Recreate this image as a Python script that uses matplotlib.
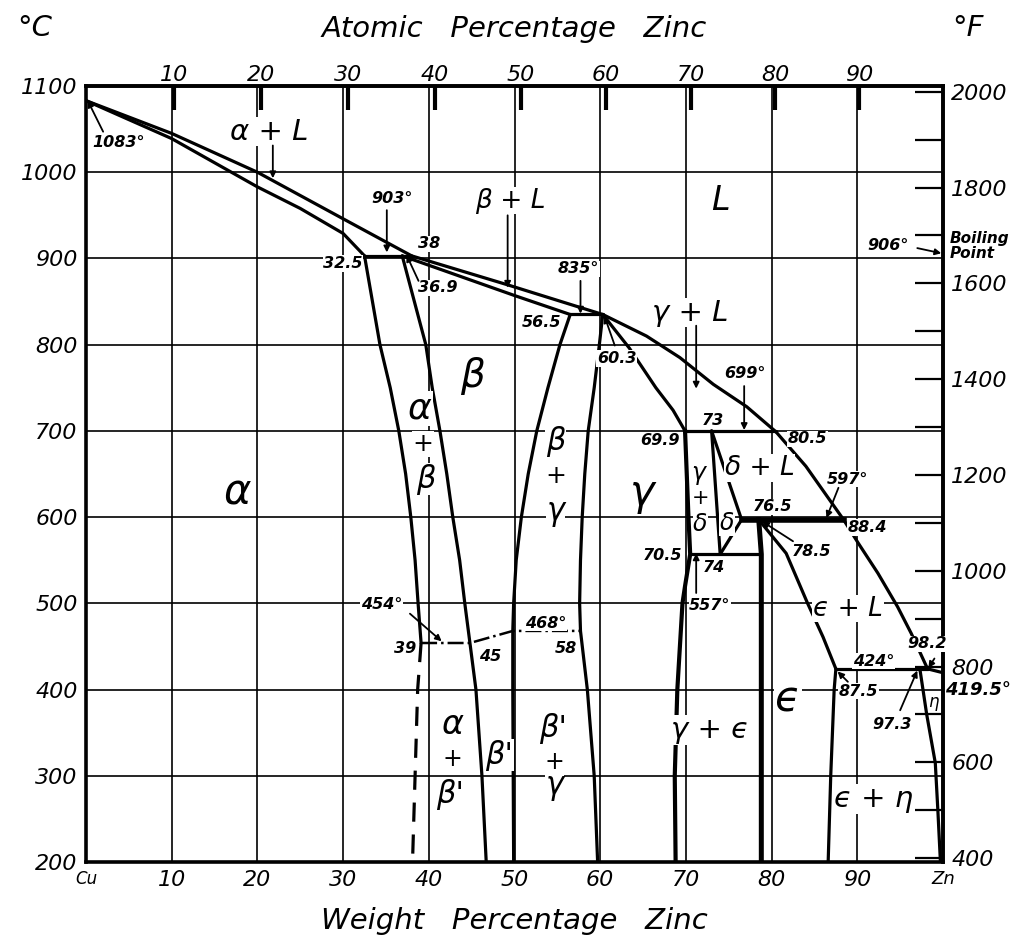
import matplotlib
matplotlib.use("Agg")
import matplotlib.pyplot as plt
import numpy as np

plt.rcParams['font.family'] = ['DejaVu Sans']
plt.rcParams['font.style'] = 'italic'

# phase boundaries, (weight % Zn, deg C)
liq_alpha_w = [0, 10, 20, 30, 38]
liq_alpha_t = [1083, 1045, 1000, 946, 903]
sol_alpha_w = [0, 10, 20, 25, 30, 32.5]
sol_alpha_t = [1083, 1039, 983, 958, 929, 903]
liq_beta_w = [38, 49, 60.3]
liq_beta_t = [903, 870, 835]
sol_beta_w = [36.9, 50, 56.5]
sol_beta_t = [903, 857, 835]
liq_gamma_w = [60.3, 65.4, 69.3, 73.2, 77.1, 80.5]
liq_gamma_t = [835, 810, 785, 754, 728, 699]
sol_gamma_w = [60.3, 63.4, 66.5, 68.5, 69.9]
sol_gamma_t = [835, 796, 750, 724, 700]
liq_delta_w = [80.5, 84.0, 88.4]
liq_delta_t = [699, 659, 597]
liq_eps_w = [88.4, 90.1, 92.4, 94.7, 96.3, 98.2, 100]
liq_eps_t = [597, 570, 535, 496, 465, 424, 419.5]

alpha_w = [32.5, 34.3, 35.5, 36.5, 37.3, 37.9, 38.4, 38.75, 39.1]
alpha_t = [903, 800, 750, 700, 650, 600, 550, 500, 454]
alpha_low_w = [39.1, 38.7, 38.1]
alpha_low_t = [454, 400, 200]
beta_w = [36.9, 39.65, 40.4, 41.3, 42.1, 42.8, 43.6, 44.2, 44.8, 45.5, 46.2, 46.7]
beta_t = [903, 800, 750, 700, 650, 600, 550, 500, 454, 400, 300, 200]
beta_r_w = [56.5, 55.3, 53.9, 52.6, 51.6, 50.8, 50.2, 49.9, 49.8, 49.8, 49.9]
beta_r_t = [835, 800, 750, 700, 650, 600, 550, 500, 468, 400, 200]
gamma_l_w = [60.3, 59.9, 59.3, 58.6, 58.2, 57.9, 57.7, 57.6, 57.7, 58.5, 59.3, 59.7]
gamma_l_t = [835, 800, 750, 700, 650, 600, 550, 500, 468, 400, 300, 200]
gamma_r_w = [69.9, 70.3, 70.5, 69.9, 69.6, 69.0, 68.7, 68.8]
gamma_r_t = [700, 600, 557, 520, 500, 400, 300, 200]
delta_l_w = [73, 74]
delta_l_t = [700, 557]
delta_liq_w = [73, 76.5]
delta_liq_t = [700, 597]
delta_r_w = [74, 76.5]
delta_r_t = [557, 597]
eps_l_w = [78.5, 78.8, 78.8]
eps_l_t = [597, 557, 200]
eps_sol_w = [78.5, 81.7, 84.2, 86.0, 87.5]
eps_sol_t = [597, 558, 500, 461, 424]
eps_r_w = [87.5, 87.3, 86.9, 86.6]
eps_r_t = [424, 400, 300, 200]
eta_w = [97.3, 98.1, 99.1, 99.4, 99.7]
eta_t = [424, 371, 315, 260, 200]
order_w = [39.1, 44.8, 49.8, 57.7]
order_t = [454, 454, 468, 468]

# horizontal invariants: (start, end, temperature)
plateaus = [(32.5, 38, 903), (56.5, 60.3, 835), (69.9, 80.5, 700),
            (70.5, 78.8, 557), (87.5, 98.2, 424)]
plateau_597 = (76.5, 88.4, 597)

bottom_ticks = [0, 10, 20, 30, 40, 50, 60, 70, 80, 90, 100]
bottom_labels = ['Cu', '10', '20', '30', '40', '50', '60', '70', '80', '90', 'Zn']
left_ticks = [200, 300, 400, 500, 600, 700, 800, 900, 1000, 1100]
top_ticks = [10, 20, 30, 40, 50, 60, 70, 80, 90]
f_major = [400, 600, 800, 1000, 1200, 1400, 1600, 1800, 2000]
f_minor = [500, 700, 900, 1100, 1300, 1500, 1700, 1900]

# phase field names: text, wt, T, size
phase_labels = [
    ('α', 17.7, 628, 30), ('β', 45.1, 764, 28), ('L', 74.0, 967, 24),
    ('γ', 64.9, 628, 30), ('ϵ', 81.9, 388, 30),
    ('α + L', 21.4, 1047, 21), ('β + L', 49.5, 967, 19),
    ('γ + L', 70.5, 837, 21), ('δ + L', 78.6, 657, 19),
    ('ϵ + L', 88.9, 494, 19), ('γ + ϵ', 72.8, 353, 21),
    ('ϵ + η', 91.9, 273, 21),
    ('α', 39.0, 726, 26), ('+', 39.3, 685, 18), ('β', 39.6, 644, 22),
    ('β', 54.8, 688, 22), ('+', 54.8, 648, 18), ('γ', 54.8, 605, 22),
    ('γ', 71.4, 651, 17), ('+', 71.7, 622, 15), ('δ', 71.7, 592, 17),
    ('δ', 74.8, 593, 17),
    ('α', 42.7, 359, 24), ('+', 42.7, 320, 17), ("β'", 42.5, 278, 22),
    ("β'", 48.2, 324, 22),
    ("β'", 54.5, 355, 22), ('+', 54.7, 316, 17), ('γ', 54.7, 287, 22),
    ('η', 98.9, 385, 12),
]

# compositions and temperatures written on the diagram
num_labels = [
    ('1083°', 3.8, 1034), ('903°', 35.7, 970), ('38', 40.0, 917),
    ('32.5', 30.0, 894), ('36.9', 41.0, 866), ('835°', 57.5, 888),
    ('56.5', 53.1, 826), ('60.3', 61.9, 784), ('699°', 76.9, 766),
    ('73', 73.1, 712), ('69.9', 67.0, 689), ('80.5', 84.2, 691),
    ('597°', 88.9, 644), ('76.5', 80.1, 612), ('88.4', 91.2, 588),
    ('78.5', 84.7, 560), ('70.5', 67.3, 555), ('74', 73.3, 541),
    ('557°', 72.8, 497), ('454°', 34.5, 499), ('39', 37.2, 448),
    ('45', 47.1, 438), ('468°', 53.6, 477), ('58', 56.0, 448),
    ('424°', 91.9, 433), ('98.2', 98.2, 453), ('87.5', 90.1, 398),
    ('97.3', 94.1, 360), ('906°', 93.6, 915),
]

# leader arrows: tail -> tip
arrows = [
    ((2.0, 1047), (0.2, 1083)), ((21.8, 1031), (21.8, 993)),
    ((35.1, 956), (35.1, 907)), ((38.8, 874), (37.4, 904)),
    ((49.2, 950), (49.2, 866)), ((57.7, 874), (57.7, 836)),
    ((61.7, 799), (60.5, 833)), ((71.2, 822), (71.2, 749)),
    ((76.8, 752), (76.8, 701)), ((87.8, 634), (86.4, 599)),
    ((82.5, 572), (78.9, 595)), ((71.2, 512), (71.2, 558)),
    ((37.8, 488), (41.5, 456)), ((99.0, 436), (98.3, 425)),
    ((95.0, 376), (97.0, 422)), ((88.9, 409), (87.7, 421)),
    ((97.0, 912), (99.8, 906)),
]


def w2a(w):
    w = np.asarray(w, dtype=float)
    zn = w / 65.38
    cu = (100 - w) / 63.55
    return 100 * zn / (zn + cu)


def a2w(a):
    a = np.asarray(a, dtype=float)
    zn = a * 65.38
    cu = (100 - a) * 63.55
    return 100 * zn / (zn + cu)


def c2f(c):
    return np.asarray(c, dtype=float) * 9 / 5 + 32


def f2c(f):
    return (np.asarray(f, dtype=float) - 32) * 5 / 9


fig = plt.figure(figsize=(10.34, 9.48), dpi=100)
ax = fig.add_axes([86 / 1034, 1 - 862 / 948, 857 / 1034, 776 / 948])
ax.set_xlim(0, 100)
ax.set_ylim(200, 1100)

for xv in range(10, 100, 10):
    ax.axvline(xv, color='black', lw=1.2, zorder=1)
for yv in range(300, 1100, 100):
    ax.axhline(yv, color='black', lw=1.2, zorder=1)

lw = 2.3
k = dict(color='black', lw=lw, zorder=3, solid_capstyle='round', solid_joinstyle='round')
for xs, ts in [(liq_alpha_w, liq_alpha_t), (sol_alpha_w, sol_alpha_t),
               (liq_beta_w, liq_beta_t), (sol_beta_w, sol_beta_t),
               (liq_gamma_w, liq_gamma_t), (sol_gamma_w, sol_gamma_t),
               (liq_delta_w, liq_delta_t), (liq_eps_w, liq_eps_t),
               (alpha_w, alpha_t), (beta_w, beta_t),
               (beta_r_w, beta_r_t), (gamma_l_w, gamma_l_t),
               (delta_l_w, delta_l_t), (delta_liq_w, delta_liq_t),
               (delta_r_w, delta_r_t), (eps_sol_w, eps_sol_t),
               (eps_r_w, eps_r_t), (eta_w, eta_t)]:
    ax.plot(xs, ts, **k)
ax.plot(gamma_r_w, gamma_r_t, color='black', lw=3.0, zorder=3, solid_joinstyle='round')
ax.plot(eps_l_w, eps_l_t, color='black', lw=3.6, zorder=3)
for x0, x1, tv in plateaus:
    ax.plot([x0, x1], [tv, tv], **k)
ax.plot(plateau_597[:2], [plateau_597[2]] * 2, color='black', lw=4, zorder=3)
ax.plot(alpha_low_w, alpha_low_t, color='black', lw=lw, ls=(0, (6, 4)), zorder=3)
ax.plot(order_w, order_t, color='black', lw=1.8, ls='-.', zorder=3)

box = dict(fc='white', ec='none', pad=0.5)
for txt, xv, tv, fs in phase_labels:
    ax.text(xv, tv, txt, fontsize=fs, ha='center', va='center', zorder=4, bbox=box)
for txt, xv, tv in num_labels:
    ax.text(xv, tv, txt, fontsize=11.5, fontweight='bold', ha='center', va='center',
            zorder=4, bbox=box)
for (x0, y0), (x1, y1) in arrows:
    ax.annotate('', xy=(x1, y1), xytext=(x0, y0), zorder=5,
                arrowprops=dict(arrowstyle='-|>', color='black', lw=1.3,
                                mutation_scale=9, shrinkA=0, shrinkB=0))

# axes
for s in ax.spines.values():
    s.set_linewidth(2.6)
ax.set_xticks(bottom_ticks)
ax.set_xticklabels(bottom_labels)
ax.set_yticks(left_ticks)
ax.tick_params(axis='both', length=0, labelsize=16, pad=6)
labs = ax.get_xticklabels()
labs[0].set_fontsize(12)
labs[-1].set_fontsize(13)
ax.set_xlabel('Weight   Percentage   Zinc', fontsize=21, labelpad=12)

top = ax.secondary_xaxis('top', functions=(w2a, a2w))
top.set_xticks(top_ticks)
top.tick_params(direction='in', length=17, width=3, labelsize=16, pad=1)
top.spines['top'].set_linewidth(2.6)
top.set_xlabel('Atomic   Percentage   Zinc', fontsize=21, labelpad=20)

right = ax.secondary_yaxis('right', functions=(c2f, f2c))
right.set_yticks(f_major)
right.set_yticks(f_minor, minor=True)
right.tick_params(which='both', direction='in', length=20, width=1.6,
                  labelsize=16, pad=6)
right.spines['right'].set_linewidth(2.6)

fig.text(35 / 1034, 1 - 28 / 948, '°C', fontsize=21, ha='center', va='center')
fig.text(968 / 1034, 1 - 28 / 948, '°F', fontsize=21, ha='center', va='center')
fig.text(950 / 1034, 1 - 246 / 948, 'Boiling\nPoint', fontsize=11, fontweight='bold',
         ha='left', va='center', linespacing=0.95)
fig.text(945 / 1034, 1 - 690 / 948, '419.5°', fontsize=13, fontweight='bold',
         ha='left', va='center')

fig.savefig('out.png', dpi=100)
